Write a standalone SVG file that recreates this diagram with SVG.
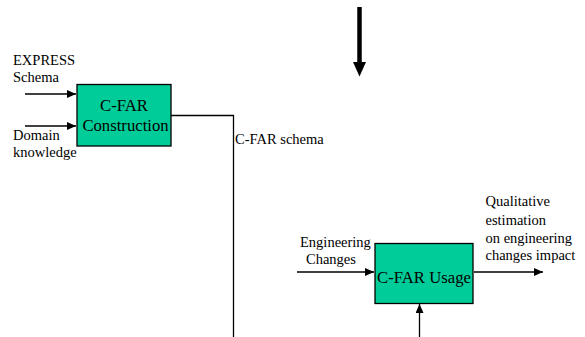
<svg xmlns="http://www.w3.org/2000/svg" width="585" height="337" viewBox="0 0 585 337">
<style>
.box{fill:#00CC99;stroke:#000;stroke-width:1.3}
.bt{font-family:"Liberation Serif","Times New Roman",serif;font-size:16.7px;fill:#000}
.lb{font-family:"Liberation Serif","Times New Roman",serif;font-size:14.5px;fill:#000}
.ln{fill:none;stroke:#000;stroke-width:1.3}
</style>
<defs>
<marker id="ah" markerWidth="9" markerHeight="8" refX="9" refY="4" orient="auto" markerUnits="userSpaceOnUse">
<path d="M0,0 L9,4 L0,8 Z" fill="#000"/>
</marker>
</defs>
<rect width="585" height="337" fill="#fff"/>
<g id="connectors">
<line class="ln" x1="25" y1="94" x2="76" y2="94" marker-end="url(#ah)"/>
<line class="ln" x1="25" y1="126" x2="76" y2="126" marker-end="url(#ah)"/>
<polyline class="ln" points="171,115.5 233.5,115.5 233.5,337"/>
<line class="ln" x1="297" y1="272" x2="374" y2="272" marker-end="url(#ah)"/>
<line class="ln" x1="474" y1="272" x2="543" y2="272" marker-end="url(#ah)"/>
<line class="ln" x1="419.5" y1="337" x2="419.5" y2="304" marker-end="url(#ah)"/>
<line x1="359.5" y1="7" x2="359.5" y2="63" stroke="#000" stroke-width="4.5"/>
<path d="M353,62 L366,62 L359.5,76.5 Z" fill="#000"/>
</g>
<g id="construction">
<rect class="box" x="77" y="84.5" width="94" height="61.5"/>
<text class="bt" x="124" y="111" text-anchor="middle">C-FAR</text>
<text class="bt" x="125.5" y="130.5" text-anchor="middle">Construction</text>
</g>
<g id="usage">
<rect class="box" x="375" y="243.5" width="98" height="60"/>
<text class="bt" x="424" y="282.5" text-anchor="middle">C-FAR Usage</text>
</g>
<g id="labels">
<text class="lb" x="13" y="65">EXPRESS</text>
<text class="lb" x="13" y="82">Schema</text>
<text class="lb" x="13" y="140">Domain</text>
<text class="lb" x="13" y="157">knowledge</text>
<text class="lb" x="235" y="143.5">C-FAR schema</text>
<text class="lb" x="300" y="247">Engineering</text>
<text class="lb" x="306" y="264">Changes</text>
<text class="lb" x="485.5" y="206">Qualitative</text>
<text class="lb" x="485.5" y="224.5">estimation</text>
<text class="lb" x="485.5" y="243">on engineering</text>
<text class="lb" x="485.5" y="260">changes impact</text>
</g>
</svg>
